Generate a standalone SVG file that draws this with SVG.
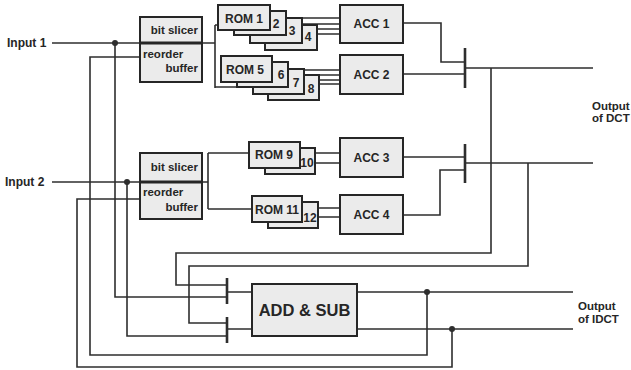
<svg xmlns="http://www.w3.org/2000/svg" width="631" height="370" viewBox="0 0 631 370">
<style>
.ln{fill:none;stroke:#2e2e2e;stroke-width:1.6}
.bar{fill:none;stroke:#2e2e2e;stroke-width:2.6}
.box{fill:#ebebeb;stroke:#262626;stroke-width:2}
.t{font-family:"Liberation Sans",Arial,sans-serif;font-weight:bold;fill:#262626}
.lbl{font-size:12px}
.sm{font-size:11.5px}
.mid{text-anchor:middle}
.end{text-anchor:end}
.dot{fill:#2e2e2e}
</style>
<rect width="631" height="370" fill="#ffffff"/>
<g id="connectors">
<path class="ln" d="M52,43H140"/>
<path class="ln" d="M52,182H140"/>
<path class="ln" d="M202,43H215M215,25V88M215,25H218M215,87H237"/>
<path class="ln" d="M202,182H208M208,153V209M208,153H249M208,209H252"/>
<path class="ln" d="M285,18H340M300,24H340M315,29H340M315,34H340"/>
<path class="ln" d="M286,70H340M302,75H340M318,80H340M318,84H340"/>
<path class="ln" d="M300,153H340M315,163H340"/>
<path class="ln" d="M302,208H340M318,217H340"/>
<path class="ln" d="M403,23H441V62H465M403,74H465"/>
<path class="ln" d="M403,157H465M403,215H440V170H465"/>
<path class="bar" d="M465,48V88M465,144V183"/>
<path class="ln" d="M465,68H593M465,163H593"/>
<path class="ln" d="M491,68V253H176V285H227"/>
<path class="ln" d="M528,163V266H189V323H227"/>
<path class="ln" d="M115,43V297H227"/>
<path class="ln" d="M127,182V336H227"/>
<path class="ln" d="M140,57H90V355H427V292"/>
<path class="ln" d="M140,199H77V367H452V329"/>
<path class="bar" d="M227,278V304M227,317V343"/>
<path class="ln" d="M227,292H252M227,329H252"/>
<path class="ln" d="M357,292H573M357,329H573"/>
<circle class="dot" cx="115" cy="43" r="3"/>
<circle class="dot" cx="127" cy="182" r="3"/>
<circle class="dot" cx="427" cy="292" r="3"/>
<circle class="dot" cx="452" cy="329" r="3"/>
</g>
<g id="input1"><text class="t lbl" x="7" y="47">Input 1</text></g>
<g id="input2"><text class="t lbl" x="5" y="186">Input 2</text></g>
<g id="slicer1">
<rect class="box" x="140" y="17" width="62" height="65"/>
<path d="M140,43H202" stroke="#262626" stroke-width="3"/>
<text class="t sm end" x="198" y="34">bit slicer</text>
<text class="t sm" x="143" y="58">reorder</text>
<text class="t sm end" x="198" y="72">buffer</text>
</g>
<g id="slicer2">
<rect class="box" x="140" y="153" width="62" height="66"/>
<path d="M140,182H202" stroke="#262626" stroke-width="3"/>
<text class="t sm end" x="198" y="171">bit slicer</text>
<text class="t sm" x="143" y="196">reorder</text>
<text class="t sm end" x="198" y="211">buffer</text>
</g>
<g id="rom1-4">
<rect class="box" x="265" y="25" width="52" height="25"/>
<text class="t lbl mid" x="308" y="41">4</text>
<rect class="box" x="250" y="18" width="52" height="25"/>
<text class="t lbl mid" x="292" y="35">3</text>
<rect class="box" x="234" y="11" width="52" height="24"/>
<text class="t lbl mid" x="276" y="28">2</text>
<rect class="box" x="218" y="5" width="52" height="25"/>
<text class="t lbl mid" x="244" y="23">ROM 1</text>
</g>
<g id="rom5-8">
<rect class="box" x="268" y="75" width="51" height="25"/>
<text class="t lbl mid" x="311" y="93">8</text>
<rect class="box" x="253" y="69" width="51" height="25"/>
<text class="t lbl mid" x="296" y="87">7</text>
<rect class="box" x="237" y="62" width="51" height="25"/>
<text class="t lbl mid" x="281" y="79">6</text>
<rect class="box" x="221" y="56" width="51" height="26"/>
<text class="t lbl mid" x="245" y="74">ROM 5</text>
</g>
<g id="rom9-10">
<rect class="box" x="265" y="148" width="50" height="26"/>
<text class="t lbl mid" x="307" y="167">10</text>
<rect class="box" x="249" y="142" width="51" height="26"/>
<text class="t lbl mid" x="274" y="159">ROM 9</text>
</g>
<g id="rom11-12">
<rect class="box" x="268" y="202" width="50" height="26"/>
<text class="t lbl mid" x="310" y="222">12</text>
<rect class="box" x="252" y="196" width="50" height="26"/>
<text class="t lbl mid" x="277" y="214">ROM 11</text>
</g>
<g id="acc1"><rect class="box" x="340" y="5" width="63" height="38"/><text class="t lbl mid" x="371.5" y="28">ACC 1</text></g>
<g id="acc2"><rect class="box" x="340" y="55" width="63" height="39"/><text class="t lbl mid" x="371.5" y="79">ACC 2</text></g>
<g id="acc3"><rect class="box" x="340" y="138" width="63" height="39"/><text class="t lbl mid" x="371.5" y="162">ACC 3</text></g>
<g id="acc4"><rect class="box" x="340" y="195" width="63" height="39"/><text class="t lbl mid" x="371.5" y="219">ACC 4</text></g>
<g id="addsub"><rect class="box" x="252" y="284" width="105" height="52"/><text class="t mid" style="font-size:16.5px" x="304.5" y="316">ADD &amp; SUB</text></g>
<g id="out-dct"><text class="t sm" x="592" y="110">Output</text><text class="t sm" x="592" y="122">of DCT</text></g>
<g id="out-idct"><text class="t sm" x="578" y="310">Output</text><text class="t sm" x="578" y="323">of IDCT</text></g>
</svg>
